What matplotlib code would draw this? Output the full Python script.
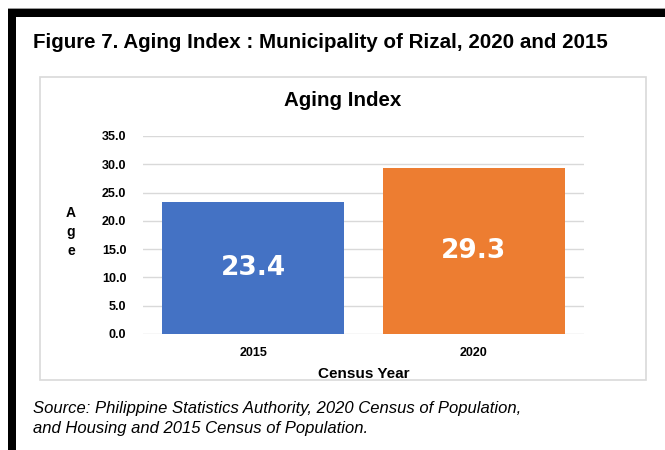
import matplotlib
matplotlib.use("Agg")
import matplotlib.pyplot as plt
from matplotlib.patches import Rectangle

# data
years = ["2015", "2020"]
aging_index = [23.4, 29.3]
bar_colors = ["#4472C4", "#ED7D31"]
y_ticks = [0, 5, 10, 15, 20, 25, 30, 35]

W, H = 665, 450


def fx(px):
    return px / W


def fy(py):
    return 1 - py / H


fig = plt.figure(figsize=(W / 100, H / 100), dpi=100)

# page frame (black bars on top and left, thin grey line above)
fig.add_artist(Rectangle((fx(8), fy(9)), fx(657), 1 / H, color="#9a9a9a", lw=0, zorder=-5))
fig.add_artist(Rectangle((fx(8), fy(17)), fx(657), 8 / H, color="black", lw=0, zorder=-5))
fig.add_artist(Rectangle((fx(8), 0), fx(8), fy(9), color="black", lw=0, zorder=-5))

# chart box
fig.add_artist(Rectangle((fx(40), fy(380)), fx(606), 303 / H, facecolor="white",
                         edgecolor="#d9d9d9", lw=1.2, zorder=-5))

fig.text(fx(33), fy(43), "Figure 7. Aging Index : Municipality of Rizal, 2020 and 2015",
         fontsize=14.8, fontweight="bold", family="Liberation Sans", va="center", ha="left")

ax = fig.add_axes([fx(143), fy(334), fx(584 - 143), (334 - 136) / H])
x = range(len(years))
bars = ax.bar(x, aging_index, width=0.825, color=bar_colors, zorder=3)
ax.set_xlim(-0.5, 1.5)
ax.set_ylim(0, 35)
ax.set_yticks(y_ticks)
ax.set_yticklabels([f"{v:.1f}" for v in y_ticks], fontsize=9, fontweight="bold",
                   family="Liberation Sans")
ax.set_xticks(list(x))
ax.set_xticklabels(years, fontsize=9, fontweight="bold", family="Liberation Sans")
ax.tick_params(axis="y", length=0, pad=12)
ax.tick_params(axis="x", length=0, pad=9)
ax.grid(axis="y", color="#d9d9d9", lw=1, zorder=0)
for s in ax.spines.values():
    s.set_visible(False)
ax.set_facecolor("none")

for b, v in zip(bars, aging_index):
    ax.text(b.get_x() + b.get_width() / 2, v / 2, f"{v:.1f}", color="white",
            fontsize=19, fontweight="bold", ha="center", va="center", zorder=4)

fig.text(fx(343), fy(100), "Aging Index", fontsize=14.8, fontweight="bold",
         family="Liberation Sans", ha="center", va="center")
fig.text(fx(364), fy(374), "Census Year", fontsize=11, fontweight="bold",
         family="Liberation Sans", ha="center", va="center")
fig.text(fx(71), fy(232), "A\ng\ne", fontsize=10, fontweight="bold",
         family="Liberation Sans", ha="center", va="center", linespacing=1.45)

fig.text(fx(33), fy(408), "Source: Philippine Statistics Authority, 2020 Census of Population,",
         fontsize=12, style="italic", family="Liberation Sans", va="center")
fig.text(fx(33), fy(428), "and Housing and 2015 Census of Population.",
         fontsize=12, style="italic", family="Liberation Sans", va="center")

fig.savefig("out.png", dpi=100)
